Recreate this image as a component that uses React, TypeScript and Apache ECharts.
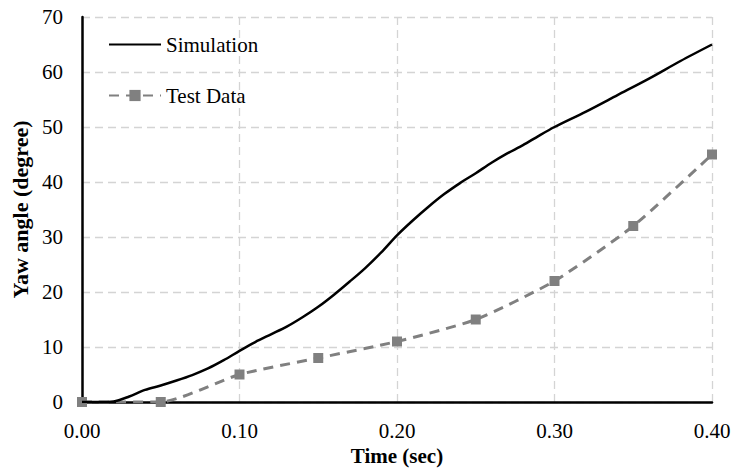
import React, { useEffect, useRef } from "react";
import * as echarts from "echarts";

const simTime = [0, 0.01, 0.02, 0.03, 0.04, 0.05, 0.06, 0.07, 0.08, 0.09, 0.1, 0.11, 0.12, 0.13, 0.14, 0.15, 0.16, 0.17, 0.18, 0.19, 0.2, 0.21, 0.22, 0.23, 0.24, 0.25, 0.26, 0.27, 0.28, 0.29, 0.3, 0.32, 0.34, 0.36, 0.38, 0.4];
const simValues = [0, 0, 0.1, 1.0, 2.2, 3.0, 3.9, 4.9, 6.1, 7.6, 9.3, 10.9, 12.3, 13.7, 15.4, 17.3, 19.5, 21.9, 24.4, 27.2, 30.3, 33.0, 35.5, 37.8, 39.8, 41.6, 43.5, 45.2, 46.7, 48.4, 50.0, 52.8, 55.8, 58.8, 62.0, 65.0];
const testTime = [0, 0.05, 0.1, 0.15, 0.2, 0.25, 0.3, 0.35, 0.4];
const testValues = [0, 0, 5, 8, 11, 15, 22, 32, 45];

const FONT = "'Liberation Serif', 'Times New Roman', serif";

export default function App() {
  const ref = useRef<HTMLDivElement>(null);
  useEffect(() => {
    if (!ref.current) return;
    const chart = echarts.init(ref.current, null, { renderer: "svg" });
    chart.setOption({
      animation: false,
      backgroundColor: "#ffffff",
      textStyle: { fontFamily: FONT },
      grid: { left: 82, right: 20, top: 17, bottom: 66, containLabel: false, outerBoundsMode: "none" },
      legend: {
        orient: "vertical",
        left: 103,
        top: 29,
        itemWidth: 52,
        itemHeight: 14,
        itemGap: 30,
        textStyle: { fontFamily: FONT, fontSize: 21, color: "#000" },
        data: [
          { name: "Simulation", itemStyle: { opacity: 0 } },
          { name: "Test Data" },
        ],
      },
      xAxis: {
        type: "value",
        min: 0,
        max: 0.4,
        interval: 0.1,
        name: "Time (sec)",
        nameLocation: "middle",
        nameGap: 42,
        nameTextStyle: { fontFamily: FONT, fontSize: 21, fontWeight: "bold", color: "#000", lineHeight: 21 },
        axisLine: { show: true, onZero: false, lineStyle: { color: "#000", width: 2.5 } },
        axisTick: { show: false },
        axisLabel: {
          fontFamily: FONT,
          fontSize: 21,
          color: "#000",
          margin: 18,
          formatter: (v: number) => v.toFixed(2),
        },
        splitLine: { show: true, lineStyle: { color: "#d4d4d4", width: 1.3, type: [8, 5] } },
      },
      yAxis: {
        type: "value",
        min: 0,
        max: 70,
        interval: 10,
        name: "Yaw angle (degree)",
        nameLocation: "middle",
        nameGap: 43,
        nameTextStyle: { fontFamily: FONT, fontSize: 22, fontWeight: "bold", color: "#000" },
        axisLine: { show: true, lineStyle: { color: "#000", width: 2.5 } },
        axisTick: { show: false },
        axisLabel: { fontFamily: FONT, fontSize: 21, color: "#000", margin: 19 },
        splitLine: { show: true, lineStyle: { color: "#d4d4d4", width: 1.3, type: [8, 5] } },
      },
      series: [
        {
          name: "Simulation",
          type: "line",
          data: simTime.map((t, i) => [t, simValues[i]]),
          showSymbol: false,
          symbol: "none",
          smooth: 0.3,
          lineStyle: { color: "#000", width: 2.5 },
          itemStyle: { color: "#000" },
          z: 3,
        },
        {
          name: "Test Data",
          type: "line",
          data: testTime.map((t, i) => [t, testValues[i]]),
          symbol: "rect",
          symbolSize: 10,
          smooth: 0.2,
          lineStyle: { color: "#808080", width: 3, type: [10, 7] },
          itemStyle: { color: "#808080" },
          z: 2,
        },
      ],
    });
    return () => chart.dispose();
  }, []);
  return <div ref={ref} style={{ width: 732, height: 468, position: "absolute", left: 0, top: 0 }} />;
}
